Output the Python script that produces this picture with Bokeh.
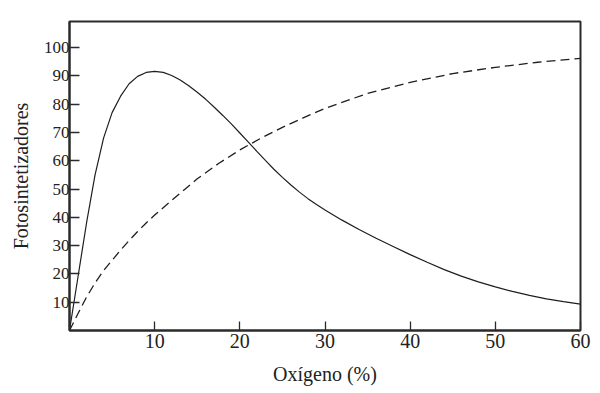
from bokeh.plotting import figure
from bokeh.models import Range1d, FixedTicker
from bokeh.embed import file_html
from bokeh.resources import INLINE

# Solid curve (photosynthesis vs oxygen)
solid_x = [0, 1, 2, 3, 4, 5, 6, 7, 8, 9, 10, 11, 12, 13, 14, 15, 16, 17, 18, 19, 20,
           21, 22, 23, 24, 25, 26, 27, 28, 29, 30, 32, 34, 36, 38, 40, 42, 44, 46, 48,
           50, 52, 54, 56, 58, 60]
solid_y = [0, 19, 38, 55, 68, 77, 82.8, 87.2, 89.8, 91.2, 91.6, 91.2, 90.1, 88.5, 86.5,
           84.2, 81.7, 78.9, 76.0, 73.0, 69.8, 66.6, 63.3, 60.1, 57.0, 54.1, 51.4, 48.9,
           46.6, 44.5, 42.6, 39.0, 35.7, 32.6, 29.7, 26.8, 24.1, 21.5, 19.2, 17.2, 15.4,
           13.8, 12.4, 11.2, 10.2, 9.3]

# Dashed curve
dash_x = [0, 1, 2, 3, 4, 5, 6, 7, 8, 9, 10, 12.5, 15, 17.5, 20, 22.5, 25, 27.5, 30,
          35, 40, 45, 50, 55, 60]
dash_y = [0, 6, 11.8, 16.8, 21.2, 24.8, 28.4, 31.8, 35.0, 38.0, 40.8, 47.3, 53.6, 59.0,
          63.8, 68.0, 71.8, 75.2, 78.5, 83.8, 87.7, 90.8, 93.0, 94.8, 96.2]

x_ticks = [10, 20, 30, 40, 50, 60]
y_ticks = [10, 20, 30, 40, 50, 60, 70, 80, 90, 100]

ink = "#2b2b2b"
font = "Liberation Serif"

p = figure(width=600, height=393, output_backend="svg", toolbar_location=None,
           x_range=Range1d(0, 60), y_range=Range1d(0, 109.2),
           min_border_left=69, min_border_right=20, min_border_top=21, min_border_bottom=63)

p.background_fill_color = "white"
p.border_fill_color = "white"
p.outline_line_color = ink
p.outline_line_width = 2
p.xgrid.visible = False
p.ygrid.visible = False

p.line(solid_x, solid_y, line_color="#1e1e1e", line_width=1.2)
p.line(dash_x, dash_y, line_color="#1e1e1e", line_width=1.3, line_dash="9 5")

for ax, ticks, size in ((p.xaxis[0], x_ticks, "20px"), (p.yaxis[0], y_ticks, "17px")):
    ax.ticker = FixedTicker(ticks=ticks)
    ax.minor_tick_line_color = None
    ax.major_tick_in = 10
    ax.major_tick_out = 0
    ax.major_tick_line_color = ink
    ax.major_tick_line_width = 1.3
    ax.axis_line_color = ink
    ax.axis_line_width = 2
    ax.major_label_text_font = font
    ax.major_label_text_font_size = size
    ax.major_label_text_font_style = "normal"
    ax.major_label_text_color = "#222222"
    ax.axis_label_text_font = font
    ax.axis_label_text_font_size = "20px"
    ax.axis_label_text_font_style = "normal"
    ax.axis_label_text_color = "#222222"

p.xaxis[0].major_tick_in = 9
p.xaxis.major_label_standoff = 3
p.yaxis.major_label_standoff = 0
p.xaxis.axis_label = "Oxígeno (%)"
p.yaxis.axis_label = "Fotosintetizadores"
p.xaxis.axis_label_standoff = 12
p.yaxis.axis_label_standoff = 9

open("out.html", "w").write(file_html(p, INLINE))
